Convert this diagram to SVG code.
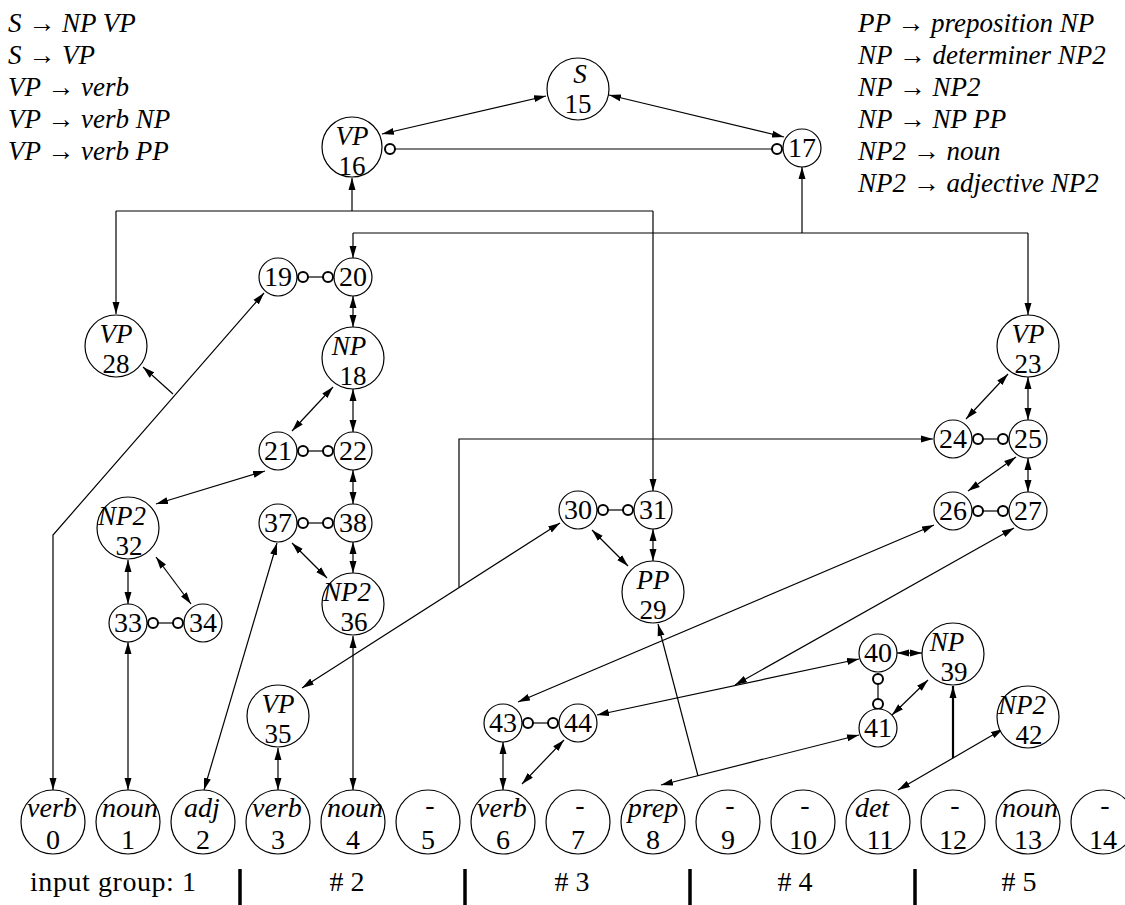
<svg xmlns="http://www.w3.org/2000/svg" width="1125" height="905" viewBox="0 0 1125 905">
<style>
.n{fill:#fff;stroke:#000;stroke-width:1.2}
.o{fill:#fff;stroke:#000;stroke-width:2}
.t{font-family:"Liberation Serif",serif;font-size:28px;text-anchor:middle;fill:#000}
.s{font-family:"Liberation Serif",serif;font-size:27px;text-anchor:middle;fill:#000}
.i{font-style:italic}
.g{font-family:"Liberation Serif",serif;font-size:27px;font-style:italic;fill:#000}
.b{font-family:"Liberation Serif",serif;font-size:28px;fill:#000}
#conn path,#conn line{stroke:#000;stroke-width:1.2;fill:none}
.d{marker-start:url(#ah);marker-end:url(#ah)}
.e{marker-end:url(#ah)}
.bar{stroke:#000;stroke-width:3.5}
</style>
<defs>
<marker id="ah" viewBox="0 0 12 8" refX="12" refY="4" markerWidth="12" markerHeight="8" markerUnits="userSpaceOnUse" orient="auto-start-reverse"><path d="M0,0.5 L12,4 L0,7.5 z" fill="#000"/></marker>
</defs>
<rect width="1125" height="905" fill="#fff"/>

<g id="grammar-left">
<text class="g" x="8" y="32">S → NP VP</text>
<text class="g" x="8" y="64">S → VP</text>
<text class="g" x="8" y="96">VP → verb</text>
<text class="g" x="8" y="128">VP → verb NP</text>
<text class="g" x="8" y="160">VP → verb PP</text>
</g>
<g id="grammar-right">
<text class="g" x="858" y="32">PP → preposition NP</text>
<text class="g" x="858" y="64">NP → determiner NP2</text>
<text class="g" x="858" y="96">NP → NP2</text>
<text class="g" x="858" y="128">NP → NP PP</text>
<text class="g" x="858" y="160">NP2 → noun</text>
<text class="g" x="858" y="192">NP2 → adjective NP2</text>
</g>

<g id="conn">
<line class="d" x1="546" y1="96" x2="382" y2="134"/>
<line class="d" x1="609" y1="95" x2="784" y2="137"/>
<line x1="395" y1="149" x2="778" y2="149"/>
<path class="e" d="M352,211 V178"/>
<path d="M116,211 H653"/>
<path class="e" d="M116,211 V314"/>
<path class="e" d="M653,211 V491"/>
<path class="e" d="M802,233 V167"/>
<path d="M353,233 H1028"/>
<path class="e" d="M353,233 V258"/>
<path class="e" d="M1028,233 V315"/>
<line x1="308" y1="277" x2="323" y2="277"/>
<line class="d" x1="353" y1="296" x2="353" y2="327"/>
<line class="d" x1="333" y1="387" x2="292" y2="431"/>
<line class="d" x1="353" y1="389" x2="353" y2="432"/>
<line x1="308" y1="451" x2="323" y2="451"/>
<line class="d" x1="265" y1="471" x2="156" y2="504"/>
<line class="d" x1="353" y1="470" x2="353" y2="504"/>
<line x1="308" y1="523" x2="323" y2="523"/>
<line class="d" x1="292" y1="543" x2="327" y2="578"/>
<line class="d" x1="353" y1="542" x2="353" y2="573"/>
<line class="d" x1="128" y1="560" x2="128" y2="604"/>
<line class="d" x1="156" y1="557" x2="191" y2="604"/>
<line x1="158" y1="623" x2="173" y2="623"/>
<line class="d" x1="128" y1="642" x2="128" y2="790"/>
<path class="d" d="M53,790 V535 L264,293"/>
<line class="e" x1="173" y1="394" x2="143" y2="367"/>
<line class="d" x1="204" y1="790" x2="277" y2="543"/>
<line class="d" x1="353" y1="636" x2="353" y2="790"/>
<line class="d" x1="278" y1="748" x2="278" y2="790"/>
<line class="d" x1="302" y1="688" x2="560" y2="523"/>
<path class="e" d="M459,587 V439 H933"/>
<line x1="603" y1="510" x2="628" y2="510"/>
<line class="d" x1="653" y1="529" x2="653" y2="561"/>
<line class="d" x1="592" y1="530" x2="628" y2="566"/>
<line class="d" x1="661" y1="785" x2="859" y2="735"/>
<line class="e" x1="698" y1="776" x2="658" y2="624"/>
<line class="d" x1="1008" y1="374" x2="966" y2="419"/>
<line class="d" x1="1028" y1="377" x2="1028" y2="420"/>
<line x1="978" y1="439" x2="1003" y2="439"/>
<line class="d" x1="1016" y1="457" x2="968" y2="491"/>
<line class="d" x1="1028" y1="458" x2="1028" y2="492"/>
<line x1="978" y1="511" x2="1003" y2="511"/>
<line class="d" x1="518" y1="702" x2="934" y2="525"/>
<line class="d" x1="597" y1="715" x2="859" y2="659"/>
<line class="d" x1="1014" y1="528" x2="735" y2="685"/>
<line class="d" x1="897" y1="653" x2="922" y2="653"/>
<line x1="878" y1="684" x2="878" y2="699"/>
<line class="d" x1="892" y1="715" x2="928" y2="680"/>
<line class="d" x1="898" y1="790" x2="1003" y2="729"/>
<path class="e" d="M953,758 V686" style="stroke-width:2.2"/>
<line x1="528" y1="723" x2="553" y2="723"/>
<line class="d" x1="503" y1="742" x2="503" y2="790"/>
<line class="d" x1="522" y1="784" x2="564" y2="740"/>
<circle class="o" cx="390" cy="149" r="5"/>
<circle class="o" cx="777" cy="149" r="5"/>
<circle class="o" cx="303" cy="277" r="5"/>
<circle class="o" cx="328" cy="277" r="5"/>
<circle class="o" cx="303" cy="451" r="5"/>
<circle class="o" cx="328" cy="451" r="5"/>
<circle class="o" cx="303" cy="523" r="5"/>
<circle class="o" cx="328" cy="523" r="5"/>
<circle class="o" cx="153" cy="623" r="5"/>
<circle class="o" cx="178" cy="623" r="5"/>
<circle class="o" cx="603" cy="510" r="5"/>
<circle class="o" cx="628" cy="510" r="5"/>
<circle class="o" cx="978" cy="439" r="5"/>
<circle class="o" cx="1003" cy="439" r="5"/>
<circle class="o" cx="978" cy="511" r="5"/>
<circle class="o" cx="1003" cy="511" r="5"/>
<circle class="o" cx="878" cy="679" r="5"/>
<circle class="o" cx="878" cy="704" r="5"/>
<circle class="o" cx="528" cy="723" r="5"/>
<circle class="o" cx="553" cy="723" r="5"/>
</g>

<g id="n15"><circle class="n" cx="578" cy="89" r="31"/><text class="s i" x="580" y="83">S</text><text class="s" x="578" y="113">15</text></g>
<g id="n16"><circle class="n" cx="352" cy="147" r="30"/><text class="s i" x="352" y="145">VP</text><text class="s" x="352" y="175">16</text></g>
<g id="n28"><circle class="n" cx="116" cy="346" r="31"/><text class="s i" x="116" y="343">VP</text><text class="s" x="116" y="373">28</text></g>
<g id="n18"><circle class="n" cx="353" cy="358" r="31"/><text class="s i" x="349" y="355">NP</text><text class="s" x="353" y="385">18</text></g>
<g id="n32"><circle class="n" cx="128" cy="528" r="31"/><text class="s i" x="122" y="525">NP2</text><text class="s" x="129" y="555">32</text></g>
<g id="n36"><circle class="n" cx="353" cy="604" r="31"/><text class="s i" x="347" y="601">NP2</text><text class="s" x="354" y="631">36</text></g>
<g id="n35"><circle class="n" cx="278" cy="716" r="31"/><text class="s i" x="278" y="713">VP</text><text class="s" x="278" y="743">35</text></g>
<g id="n29"><circle class="n" cx="653" cy="592" r="31"/><text class="s i" x="653" y="589">PP</text><text class="s" x="653" y="619">29</text></g>
<g id="n23"><circle class="n" cx="1028" cy="346" r="31"/><text class="s i" x="1028" y="343">VP</text><text class="s" x="1028" y="373">23</text></g>
<g id="n39"><circle class="n" cx="953" cy="654" r="31"/><text class="s i" x="947" y="651">NP</text><text class="s" x="954" y="681">39</text></g>
<g id="n42"><circle class="n" cx="1028" cy="717" r="31"/><text class="s i" x="1022" y="714">NP2</text><text class="s" x="1029" y="744">42</text></g>

<g id="n17"><circle class="n" cx="802" cy="148" r="19"/><text class="t" x="802" y="157">17</text></g>
<g id="n19"><circle class="n" cx="278" cy="277" r="19"/><text class="t" x="278" y="286">19</text></g>
<g id="n20"><circle class="n" cx="353" cy="277" r="19"/><text class="t" x="353" y="286">20</text></g>
<g id="n21"><circle class="n" cx="278" cy="451" r="19"/><text class="t" x="278" y="460">21</text></g>
<g id="n22"><circle class="n" cx="353" cy="451" r="19"/><text class="t" x="353" y="460">22</text></g>
<g id="n37"><circle class="n" cx="278" cy="523" r="19"/><text class="t" x="278" y="532">37</text></g>
<g id="n38"><circle class="n" cx="353" cy="523" r="19"/><text class="t" x="353" y="532">38</text></g>
<g id="n33"><circle class="n" cx="128" cy="623" r="19"/><text class="t" x="128" y="632">33</text></g>
<g id="n34"><circle class="n" cx="203" cy="623" r="19"/><text class="t" x="203" y="632">34</text></g>
<g id="n30"><circle class="n" cx="578" cy="510" r="19"/><text class="t" x="578" y="519">30</text></g>
<g id="n31"><circle class="n" cx="653" cy="510" r="19"/><text class="t" x="653" y="519">31</text></g>
<g id="n24"><circle class="n" cx="953" cy="439" r="19"/><text class="t" x="953" y="448">24</text></g>
<g id="n25"><circle class="n" cx="1028" cy="439" r="19"/><text class="t" x="1028" y="448">25</text></g>
<g id="n26"><circle class="n" cx="953" cy="511" r="19"/><text class="t" x="953" y="520">26</text></g>
<g id="n27"><circle class="n" cx="1028" cy="511" r="19"/><text class="t" x="1028" y="520">27</text></g>
<g id="n40"><circle class="n" cx="878" cy="653" r="19"/><text class="t" x="878" y="662">40</text></g>
<g id="n41"><circle class="n" cx="878" cy="728" r="19"/><text class="t" x="878" y="737">41</text></g>
<g id="n43"><circle class="n" cx="503" cy="723" r="19"/><text class="t" x="503" y="732">43</text></g>
<g id="n44"><circle class="n" cx="578" cy="723" r="19"/><text class="t" x="578" y="732">44</text></g>

<g id="n0"><circle class="n" cx="53" cy="822" r="32"/><text class="t i" x="52" y="817">verb</text><text class="t" x="53" y="849">0</text></g>
<g id="n1"><circle class="n" cx="128" cy="822" r="32"/><text class="t i" x="130" y="817">noun</text><text class="t" x="128" y="849">1</text></g>
<g id="n2"><circle class="n" cx="203" cy="822" r="32"/><text class="t i" x="202" y="817">adj</text><text class="t" x="203" y="849">2</text></g>
<g id="n3"><circle class="n" cx="278" cy="822" r="32"/><text class="t i" x="277" y="817">verb</text><text class="t" x="278" y="849">3</text></g>
<g id="n4"><circle class="n" cx="353" cy="822" r="32"/><text class="t i" x="355" y="817">noun</text><text class="t" x="353" y="849">4</text></g>
<g id="n5"><circle class="n" cx="428" cy="822" r="32"/><text class="t" x="430" y="814">-</text><text class="t" x="428" y="849">5</text></g>
<g id="n6"><circle class="n" cx="503" cy="822" r="32"/><text class="t i" x="502" y="817">verb</text><text class="t" x="503" y="849">6</text></g>
<g id="n7"><circle class="n" cx="578" cy="822" r="32"/><text class="t" x="580" y="814">-</text><text class="t" x="578" y="849">7</text></g>
<g id="n8"><circle class="n" cx="653" cy="822" r="32"/><text class="t i" x="653" y="817">prep</text><text class="t" x="653" y="849">8</text></g>
<g id="n9"><circle class="n" cx="728" cy="822" r="32"/><text class="t" x="730" y="814">-</text><text class="t" x="728" y="849">9</text></g>
<g id="n10"><circle class="n" cx="803" cy="822" r="32"/><text class="t" x="805" y="814">-</text><text class="t" x="803" y="849">10</text></g>
<g id="n11"><circle class="n" cx="878" cy="822" r="32"/><text class="t i" x="872" y="817">det</text><text class="t" x="880" y="849">11</text></g>
<g id="n12"><circle class="n" cx="953" cy="822" r="32"/><text class="t" x="955" y="814">-</text><text class="t" x="953" y="849">12</text></g>
<g id="n13"><circle class="n" cx="1028" cy="822" r="32"/><text class="t i" x="1030" y="817">noun</text><text class="t" x="1028" y="849">13</text></g>
<g id="n14"><circle class="n" cx="1103" cy="822" r="32"/><text class="t" x="1105" y="814">-</text><text class="t" x="1103" y="849">14</text></g>

<g id="groups">
<text class="b" x="30" y="891" textLength="166" lengthAdjust="spacing">input group: 1</text>
<line class="bar" x1="240" y1="869" x2="240" y2="905"/>
<text class="t" x="347" y="891"># 2</text>
<line class="bar" x1="465" y1="869" x2="465" y2="905"/>
<text class="t" x="572" y="891"># 3</text>
<line class="bar" x1="690" y1="869" x2="690" y2="905"/>
<text class="t" x="795" y="891"># 4</text>
<line class="bar" x1="915" y1="869" x2="915" y2="905"/>
<text class="t" x="1019" y="891"># 5</text>
</g>
</svg>
